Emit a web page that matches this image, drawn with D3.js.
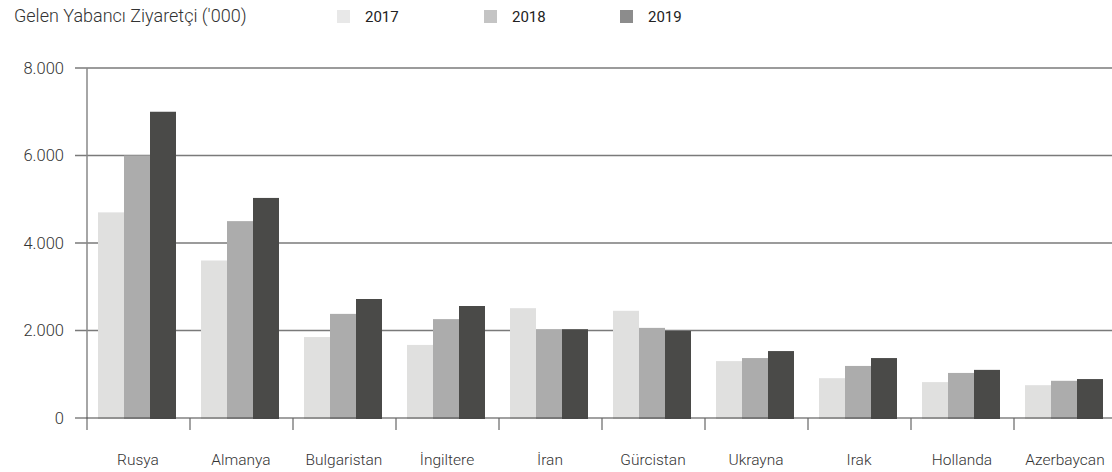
<!DOCTYPE html>
<html>
<head>
<meta charset="utf-8">
<script src="https://cdn.jsdelivr.net/npm/d3@7"></script>
<style>
  html, body { margin: 0; padding: 0; background: #fff; }
  svg { display: block; font-family: Roboto, "Noto Sans", sans-serif; }
</style>
</head>
<body>
<svg id="chart" width="1112" height="472"></svg>
<script>
// Visitor arrivals by country, thousands
const countries = ["Rusya", "Almanya", "Bulgaristan", "İngiltere", "İran", "Gürcistan", "Ukrayna", "Irak", "Hollanda", "Azerbaycan"];
const years = ["2017", "2018", "2019"];
const values2017 = [4700, 3600, 1850, 1670, 2510, 2450, 1300, 910, 820, 750];
const values2018 = [6000, 4500, 2380, 2260, 2030, 2060, 1370, 1190, 1030, 850];
const values2019 = [7000, 5030, 2720, 2560, 2030, 1990, 1530, 1370, 1100, 890];
const yTicks = [0, 2000, 4000, 6000, 8000];
const title = "Gelen Yabancı Ziyaretçi ('000)";

const barColors = { "2017": "#e0e0df", "2018": "#acacac", "2019": "#4a4a48" };
const legendColors = { "2017": "#e8e8e8", "2018": "#c4c4c4", "2019": "#8c8c8c" };

const seriesByYear = { "2017": values2017, "2018": values2018, "2019": values2019 };
const rows = countries.map((c, i) => ({
  country: c,
  values: years.map(y => ({ year: y, value: seriesByYear[y][i] }))
}));

const svg = d3.select("#chart");
const W = 1112;

const x = d3.scaleBand().domain(countries).range([87, 1117]).padding(0);
const xInner = d3.scaleBand().domain(years).range([11, 89]).padding(0);
const y = d3.scaleLinear().domain([0, 8000]).range([418, 68]);

const tr = d3.formatLocale({ decimal: ",", thousands: ".", grouping: [3], currency: ["₺", ""] });
const fmt = tr.format(",d");

// Horizontal grid lines with left ticks
const grid = svg.append("g");
grid.selectAll("line")
  .data(yTicks.filter(t => t > 0))
  .join("line")
  .attr("x1", 75).attr("x2", W)
  .attr("y1", d => y(d)).attr("y2", d => y(d))
  .attr("stroke", "#7a7a7a").attr("stroke-width", 1.5);

// Y tick labels
svg.append("g").selectAll("text")
  .data(yTicks)
  .join("text")
  .attr("x", 64).attr("y", d => y(d))
  .attr("dy", "0.35em")
  .attr("text-anchor", "end")
  .attr("font-size", 16.5)
  .attr("font-weight", 300)
  .attr("fill", "#333")
  .text(d => fmt(d));

// Bars
const groups = svg.append("g").selectAll("g")
  .data(rows)
  .join("g")
  .attr("transform", d => `translate(${x(d.country)},0)`);

groups.selectAll("rect")
  .data(d => d.values)
  .join("rect")
  .attr("x", d => xInner(d.year))
  .attr("width", xInner.bandwidth())
  .attr("y", d => y(d.value))
  .attr("height", d => y(0) - y(d.value) + 1)
  .attr("fill", d => barColors[d.year]);

// Y axis line
svg.append("line")
  .attr("x1", 87).attr("x2", 87)
  .attr("y1", y(8000)).attr("y2", 430)
  .attr("stroke", "#888").attr("stroke-width", 1.5);

// Baseline
svg.append("line")
  .attr("x1", 75).attr("x2", W)
  .attr("y1", y(0)).attr("y2", y(0))
  .attr("stroke", "#444").attr("stroke-width", 1.2);

// Category separator ticks
svg.append("g").selectAll("line")
  .data(countries.slice(1))
  .join("line")
  .attr("x1", d => x(d)).attr("x2", d => x(d))
  .attr("y1", y(0)).attr("y2", 430)
  .attr("stroke", "#666").attr("stroke-width", 1.2);

// Category labels
svg.append("g").selectAll("text")
  .data(countries)
  .join("text")
  .attr("x", d => x(d) + 51)
  .attr("y", 465)
  .attr("text-anchor", "middle")
  .attr("font-size", 15.5)
  .attr("font-weight", 300)
  .attr("fill", "#333")
  .text(d => d);

// Title
svg.append("text")
  .attr("x", 14).attr("y", 22)
  .attr("font-size", 18)
  .attr("font-weight", 300)
  .attr("fill", "#333")
  .text(title);

// Legend
const legendX = { "2017": 337, "2018": 484, "2019": 620 };
const legend = svg.append("g").selectAll("g")
  .data(years)
  .join("g")
  .attr("transform", d => `translate(${legendX[d]},10)`);
legend.append("rect")
  .attr("width", 13).attr("height", 13)
  .attr("fill", d => legendColors[d]);
legend.append("text")
  .attr("x", 28).attr("y", 12)
  .attr("font-size", 15)
  .attr("fill", "#222")
  .text(d => d);
</script>
</body>
</html>
